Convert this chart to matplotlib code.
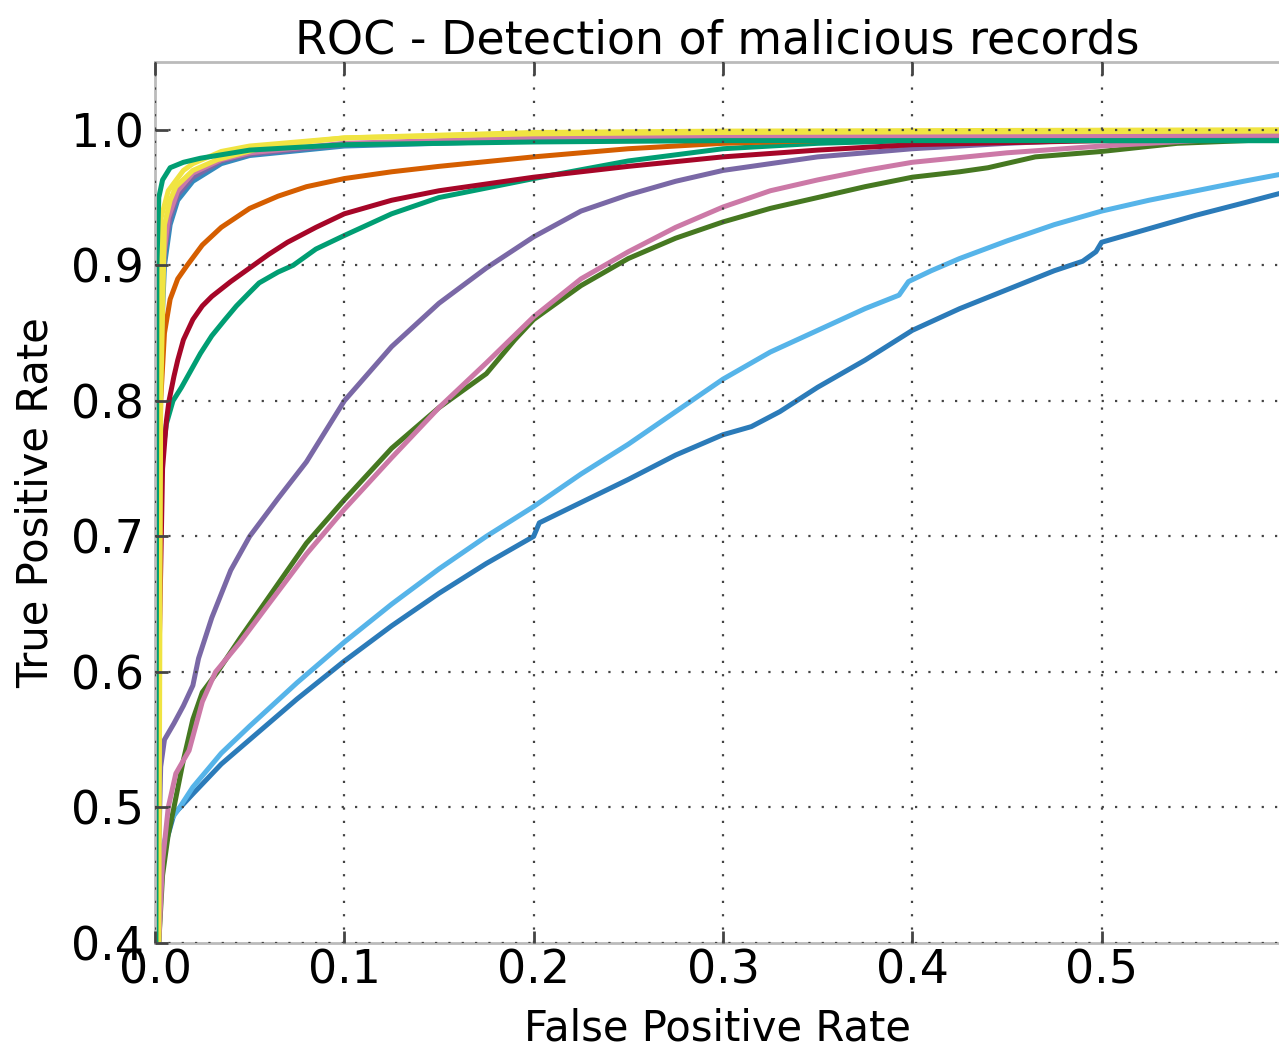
import numpy as np
import matplotlib.pyplot as plt

# ROC curves (FPR, TPR), one pair per classifier
dark_blue_fpr = [0.002, 0.003, 0.005, 0.01, 0.02, 0.035, 0.05, 0.075, 0.1, 0.125, 0.15, 0.175, 0.2, 0.203,
                 0.225, 0.25, 0.275, 0.3, 0.315, 0.33, 0.35, 0.375, 0.4, 0.425, 0.45, 0.475, 0.49, 0.497,
                 0.5, 0.525, 0.55, 0.575, 0.594]
dark_blue_tpr = [0.40, 0.44, 0.47, 0.495, 0.51, 0.532, 0.55, 0.58, 0.608, 0.634, 0.658, 0.68, 0.70, 0.71,
                 0.725, 0.742, 0.76, 0.775, 0.781, 0.792, 0.81, 0.83, 0.852, 0.868, 0.882, 0.896, 0.903, 0.91,
                 0.917, 0.927, 0.937, 0.946, 0.953]

light_blue_fpr = [0.001, 0.002, 0.004, 0.008, 0.013, 0.02, 0.035, 0.05, 0.075, 0.1, 0.125, 0.15, 0.175, 0.2,
                  0.225, 0.25, 0.275, 0.3, 0.325, 0.35, 0.375, 0.393, 0.398, 0.41, 0.425, 0.45, 0.475, 0.5,
                  0.525, 0.55, 0.575, 0.594]
light_blue_tpr = [0.40, 0.44, 0.47, 0.49, 0.50, 0.515, 0.54, 0.56, 0.592, 0.622, 0.65, 0.676, 0.70, 0.722,
                  0.746, 0.768, 0.792, 0.816, 0.836, 0.852, 0.868, 0.878, 0.888, 0.896, 0.905, 0.918, 0.93, 0.94,
                  0.948, 0.955, 0.962, 0.967]

green_fpr = [0.002, 0.004, 0.007, 0.01, 0.015, 0.02, 0.025, 0.033, 0.045, 0.06, 0.08, 0.1, 0.125, 0.15, 0.175,
             0.19, 0.2, 0.225, 0.25, 0.275, 0.3, 0.325, 0.35, 0.375, 0.4, 0.425, 0.44, 0.465, 0.5, 0.54, 0.594]
green_tpr = [0.40, 0.45, 0.48, 0.50, 0.535, 0.565, 0.585, 0.60, 0.625, 0.655, 0.695, 0.727, 0.765, 0.795, 0.82,
             0.845, 0.86, 0.885, 0.905, 0.92, 0.932, 0.942, 0.95, 0.958, 0.965, 0.969, 0.972, 0.98, 0.984, 0.99,
             0.993]

pink_fpr = [0.002, 0.004, 0.007, 0.011, 0.018, 0.025, 0.032, 0.045, 0.06, 0.08, 0.1, 0.125, 0.15, 0.175, 0.2,
            0.225, 0.25, 0.275, 0.3, 0.325, 0.35, 0.375, 0.4, 0.45, 0.5, 0.55, 0.594]
pink_tpr = [0.40, 0.46, 0.50, 0.525, 0.542, 0.578, 0.60, 0.622, 0.65, 0.687, 0.72, 0.758, 0.795, 0.828, 0.862,
            0.89, 0.91, 0.928, 0.943, 0.955, 0.963, 0.97, 0.976, 0.983, 0.988, 0.992, 0.995]

purple_fpr = [0.001, 0.002, 0.003, 0.005, 0.01, 0.015, 0.02, 0.023, 0.03, 0.04, 0.05, 0.065, 0.08, 0.1, 0.125,
              0.15, 0.175, 0.2, 0.225, 0.25, 0.275, 0.3, 0.35, 0.4, 0.45, 0.5, 0.55, 0.594]
purple_tpr = [0.40, 0.47, 0.53, 0.55, 0.562, 0.575, 0.59, 0.61, 0.64, 0.675, 0.70, 0.728, 0.755, 0.80, 0.84,
              0.872, 0.898, 0.921, 0.94, 0.952, 0.962, 0.970, 0.98, 0.986, 0.99, 0.993, 0.995, 0.996]

teal_low_fpr = [0.001, 0.0015, 0.002, 0.003, 0.006, 0.0095, 0.014, 0.018, 0.024, 0.03, 0.037, 0.043, 0.05,
                0.055, 0.065, 0.073, 0.085, 0.1, 0.125, 0.15, 0.2, 0.25, 0.3, 0.35, 0.4, 0.5, 0.594]
teal_low_tpr = [0.40, 0.55, 0.68, 0.75, 0.783, 0.80, 0.81, 0.82, 0.835, 0.848, 0.86, 0.87, 0.88,
                0.887, 0.895, 0.90, 0.912, 0.922, 0.938, 0.95, 0.964, 0.977, 0.986, 0.99, 0.992, 0.992, 0.992]

crimson_fpr = [0.001, 0.002, 0.004, 0.006, 0.0074, 0.01, 0.012, 0.015, 0.02, 0.025, 0.03, 0.04, 0.05, 0.06,
               0.07, 0.085, 0.1, 0.125, 0.15, 0.2, 0.25, 0.3, 0.35, 0.4, 0.5, 0.594]
crimson_tpr = [0.40, 0.60, 0.75, 0.785, 0.80, 0.818, 0.83, 0.845, 0.86, 0.87, 0.877, 0.888, 0.898, 0.908,
               0.917, 0.928, 0.938, 0.948, 0.955, 0.965, 0.973, 0.98, 0.985, 0.989, 0.992, 0.993]

orange_fpr = [0.001, 0.002, 0.003, 0.005, 0.008, 0.012, 0.017, 0.025, 0.035, 0.05, 0.065, 0.08, 0.1, 0.125,
              0.15, 0.2, 0.25, 0.3, 0.4, 0.5, 0.594]
orange_tpr = [0.40, 0.70, 0.80, 0.85, 0.875, 0.89, 0.90, 0.915, 0.928, 0.942, 0.951, 0.958, 0.964, 0.969,
              0.973, 0.98, 0.986, 0.99, 0.994, 0.996, 0.997]

teal_top_fpr = [0.0005, 0.001, 0.002, 0.004, 0.008, 0.015, 0.024, 0.05, 0.1, 0.2, 0.3, 0.594]
teal_top_tpr = [0.40, 0.90, 0.95, 0.963, 0.972, 0.976, 0.979, 0.985, 0.989, 0.991, 0.992, 0.992]

blue_top_fpr = [0.001, 0.002, 0.005, 0.008, 0.012, 0.02, 0.035, 0.05, 0.1, 0.2, 0.594]
blue_top_tpr = [0.40, 0.80, 0.90, 0.93, 0.948, 0.962, 0.975, 0.981, 0.988, 0.992, 0.994]

purple_top_fpr = [0.001, 0.002, 0.005, 0.008, 0.012, 0.02, 0.035, 0.05, 0.1, 0.2, 0.594]
purple_top_tpr = [0.40, 0.82, 0.91, 0.935, 0.952, 0.965, 0.977, 0.982, 0.989, 0.993, 0.995]

pink_top_fpr = [0.001, 0.002, 0.004, 0.007, 0.012, 0.02, 0.035, 0.05, 0.1, 0.2, 0.3, 0.594]
pink_top_tpr = [0.40, 0.82, 0.90, 0.935, 0.955, 0.968, 0.978, 0.983, 0.99, 0.994, 0.995, 0.996]

yellow_in_fpr = [0.001, 0.002, 0.003, 0.007, 0.015, 0.02, 0.035, 0.05, 0.1, 0.2, 0.3, 0.594]
yellow_in_tpr = [0.40, 0.85, 0.934, 0.955, 0.970, 0.975, 0.984, 0.988, 0.994, 0.997, 0.998, 0.999]

yellow_out_fpr = [0.002, 0.003, 0.005, 0.008, 0.011, 0.02, 0.033, 0.06, 0.1, 0.2, 0.3, 0.594]
yellow_out_tpr = [0.40, 0.80, 0.93, 0.948, 0.958, 0.970, 0.978, 0.988, 0.994, 0.998, 0.999, 1.0]

curves = [
    (dark_blue_fpr, dark_blue_tpr, '#2b7bb9'),
    (light_blue_fpr, light_blue_tpr, '#56B4E9'),
    (green_fpr, green_tpr, '#467821'),
    (pink_fpr, pink_tpr, '#CC79A7'),
    (purple_fpr, purple_tpr, '#7A68A6'),
    (teal_low_fpr, teal_low_tpr, '#009E73'),
    (crimson_fpr, crimson_tpr, '#A60628'),
    (orange_fpr, orange_tpr, '#D55E00'),
    (blue_top_fpr, blue_top_tpr, '#348ABD'),
    (purple_top_fpr, purple_top_tpr, '#7A68A6'),
    (pink_top_fpr, pink_top_tpr, '#CC79A7'),
    (yellow_in_fpr, yellow_in_tpr, '#F0E442'),
    (yellow_out_fpr, yellow_out_tpr, '#F0E442'),
    (teal_top_fpr, teal_top_tpr, '#009E73'),
]

fig = plt.figure(figsize=(12.79, 10.47), dpi=100)
ax = fig.add_axes([155 / 1279, (1047 - 943) / 1047, 1 - 155 / 1279, (943 - 62) / 1047])

for fpr, tpr, c in curves:
    ax.plot([0.0] + fpr, [tpr[0]] + tpr, color=c, linewidth=3.6)

ax.set_xlim(0, 0.5937)
ax.set_ylim(0.4, 1.05)
ax.set_xticks([0.0, 0.1, 0.2, 0.3, 0.4, 0.5])
ax.set_yticks([0.4, 0.5, 0.6, 0.7, 0.8, 0.9, 1.0])

ax.set_axisbelow(False)
ax.grid(True, color='#444444', linestyle=(0, (1, 5)), linewidth=1.6)
for s in ['left', 'bottom', 'top']:
    ax.spines[s].set_color('#bbbbbb')
    ax.spines[s].set_linewidth(2)
ax.spines['right'].set_visible(False)
ax.tick_params(direction='in', length=9, width=2, color='#444444', labelsize=33, pad=8,
               top=True, labeltop=False)
ax.tick_params(axis='x', pad=4)

ax.set_title('ROC - Detection of malicious records', fontsize=33, pad=6)
ax.set_xlabel('False Positive Rate', fontsize=30, labelpad=10)
ax.set_ylabel('True Positive Rate', fontsize=30, labelpad=10)

fig.savefig('out.png', dpi=100)
